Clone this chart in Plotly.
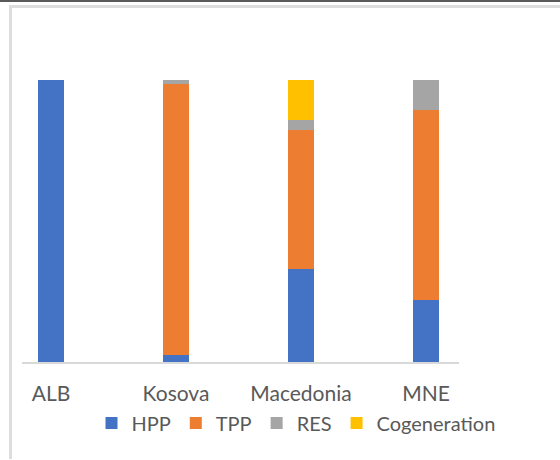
import plotly.graph_objects as go

categories = ["ALB", "Kosova", "Macedonia", "MNE"]
hpp = [100.0, 2.5, 33.0, 22.0]
tpp = [0.0, 95.8, 49.0, 67.2]
res = [0.0, 1.7, 3.8, 10.8]
cogeneration = [0.0, 0.0, 14.2, 0.0]

series = [
    ("HPP", hpp, "#4472C4"),
    ("TPP", tpp, "#ED7D31"),
    ("RES", res, "#A5A5A5"),
    ("Cogeneration", cogeneration, "#FFC000"),
]

W, H = 560, 460
def px(x):
    return x / W
def py(y):
    return 1 - y / H

fig = go.Figure()
for name, vals, color in series:
    fig.add_trace(go.Bar(name=name, x=categories, y=vals, marker=dict(color=color, line=dict(width=0))))

text_color = "#595959"
font_family = "Lato, 'Open Sans', sans-serif"

fig.update_layout(
    width=W, height=H,
    margin=dict(l=0, r=0, t=0, b=0),
    barmode="stack",
    bargap=0.792,
    paper_bgcolor="white",
    plot_bgcolor="white",
    font=dict(family=font_family, color=text_color, size=21),
    xaxis=dict(
        domain=[px(21.5), px(459)],
        range=[-0.236, 3.264],
        showline=True, linecolor="#D9D9D9", linewidth=1.5,
        showgrid=False, ticks="", zeroline=False,
        tickfont=dict(size=21, color=text_color),
        ticklabelstandoff=12,
        fixedrange=True,
    ),
    yaxis=dict(
        domain=[py(362), py(79.5)],
        range=[0, 100],
        visible=False,
        showgrid=False, zeroline=False,
    ),
    legend=dict(
        orientation="h",
        x=px(296), xanchor="center",
        y=py(423), yanchor="middle",
        font=dict(size=20, color=text_color),
        traceorder="normal",
        itemwidth=30,
        bgcolor="rgba(0,0,0,0)",
    ),
    shapes=[
        dict(type="line", xref="paper", yref="paper", x0=0, x1=1, y0=py(1), y1=py(1),
             line=dict(color="#5A5A5A", width=2)),
        dict(type="line", xref="paper", yref="paper", x0=px(10), x1=1, y0=py(6.5), y1=py(6.5),
             line=dict(color="#DDDDDD", width=3)),
        dict(type="line", xref="paper", yref="paper", x0=px(10.5), x1=px(10.5), y0=py(5), y1=py(459),
             line=dict(color="#DDDDDD", width=3)),
    ],
)

fig.write_html("out.html")
